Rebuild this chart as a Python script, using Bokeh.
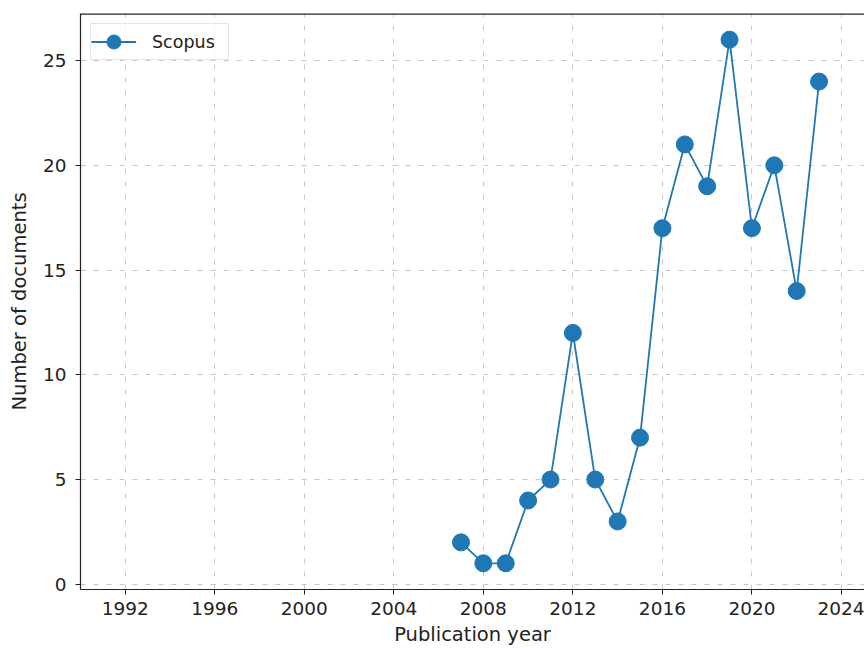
from bokeh.plotting import figure
from bokeh.models import ColumnDataSource, Range1d, FixedTicker, Legend, LegendItem, Span
from bokeh.embed import file_html
from bokeh.resources import INLINE

years = [2007, 2008, 2009, 2010, 2011, 2012, 2013, 2014, 2015, 2016, 2017, 2018, 2019, 2020, 2021, 2022, 2023]
documents = [2, 1, 1, 4, 5, 12, 5, 3, 7, 17, 21, 19, 26, 17, 20, 14, 24]
x_ticks = [1992, 1996, 2000, 2004, 2008, 2012, 2016, 2020, 2024]
y_ticks = [0, 5, 10, 15, 20, 25]
series_name = "Scopus"

FONT = "DejaVu Sans"
BLUE = "#1f77b4"
DARK = "#222222"
Y_MIN, Y_MAX = -0.25, 27.25

src = ColumnDataSource(dict(x=years, y=documents))

p = figure(width=864, height=648, output_backend="svg", toolbar_location=None,
           x_range=Range1d(1990, 2025.03), y_range=Range1d(Y_MIN, Y_MAX),
           min_border_left=80, min_border_right=0, min_border_top=13, min_border_bottom=58)
p.background_fill_color = "white"
p.border_fill_color = "white"
p.outline_line_color = None

r_line = p.line("x", "y", source=src, line_color=BLUE, line_width=1.8)
r_pts = p.scatter("x", "y", source=src, size=17, fill_color=BLUE, line_color=BLUE)

# top spine (matplotlib-style frame, right side cut off in reference)
p.add_layout(Span(location=Y_MAX, dimension="width", line_color=DARK, line_width=2.6))

for ax in (p.xaxis[0], p.yaxis[0]):
    ax.major_label_text_font = FONT
    ax.major_label_text_font_size = "18.5px"
    ax.major_label_text_color = DARK
    ax.axis_label_text_font = FONT
    ax.axis_label_text_font_size = "19.5px"
    ax.axis_label_text_font_style = "normal"
    ax.axis_label_text_color = DARK
    ax.major_tick_in = 0
    ax.major_tick_out = 5
    ax.minor_tick_in = 0
    ax.minor_tick_out = 0
    ax.axis_line_color = DARK
    ax.axis_line_width = 1.2
    ax.major_tick_line_color = DARK

p.xaxis.ticker = FixedTicker(ticks=x_ticks)
p.yaxis.ticker = FixedTicker(ticks=y_ticks)
p.xaxis.axis_label = "Publication year"
p.yaxis.axis_label = "Number of documents"
p.xaxis.major_label_standoff = 7
p.xaxis.axis_label_standoff = 5
p.yaxis.major_label_standoff = 9
p.yaxis.axis_label_standoff = 9

for g in (p.xgrid[0], p.ygrid[0]):
    g.grid_line_color = "#b8b8b8"
    g.grid_line_alpha = 0.8
    g.grid_line_dash = "5 8"
    g.grid_line_width = 1
p.xgrid.ticker = FixedTicker(ticks=x_ticks)
p.ygrid.ticker = FixedTicker(ticks=y_ticks)

legend = Legend(items=[LegendItem(label=series_name, renderers=[r_line, r_pts])],
                location="top_left")
legend.label_text_font = FONT
legend.label_text_font_size = "17.5px"
legend.label_text_color = DARK
legend.glyph_width = 45
legend.glyph_height = 35
legend.label_standoff = 16
legend.label_width = 76
legend.label_height = 35
legend.padding = 0
legend.margin = 10
legend.border_line_color = "#cccccc"
legend.border_line_width = 1
legend.background_fill_alpha = 0.8
p.add_layout(legend)

open("out.html", "w").write(file_html(p, INLINE))
